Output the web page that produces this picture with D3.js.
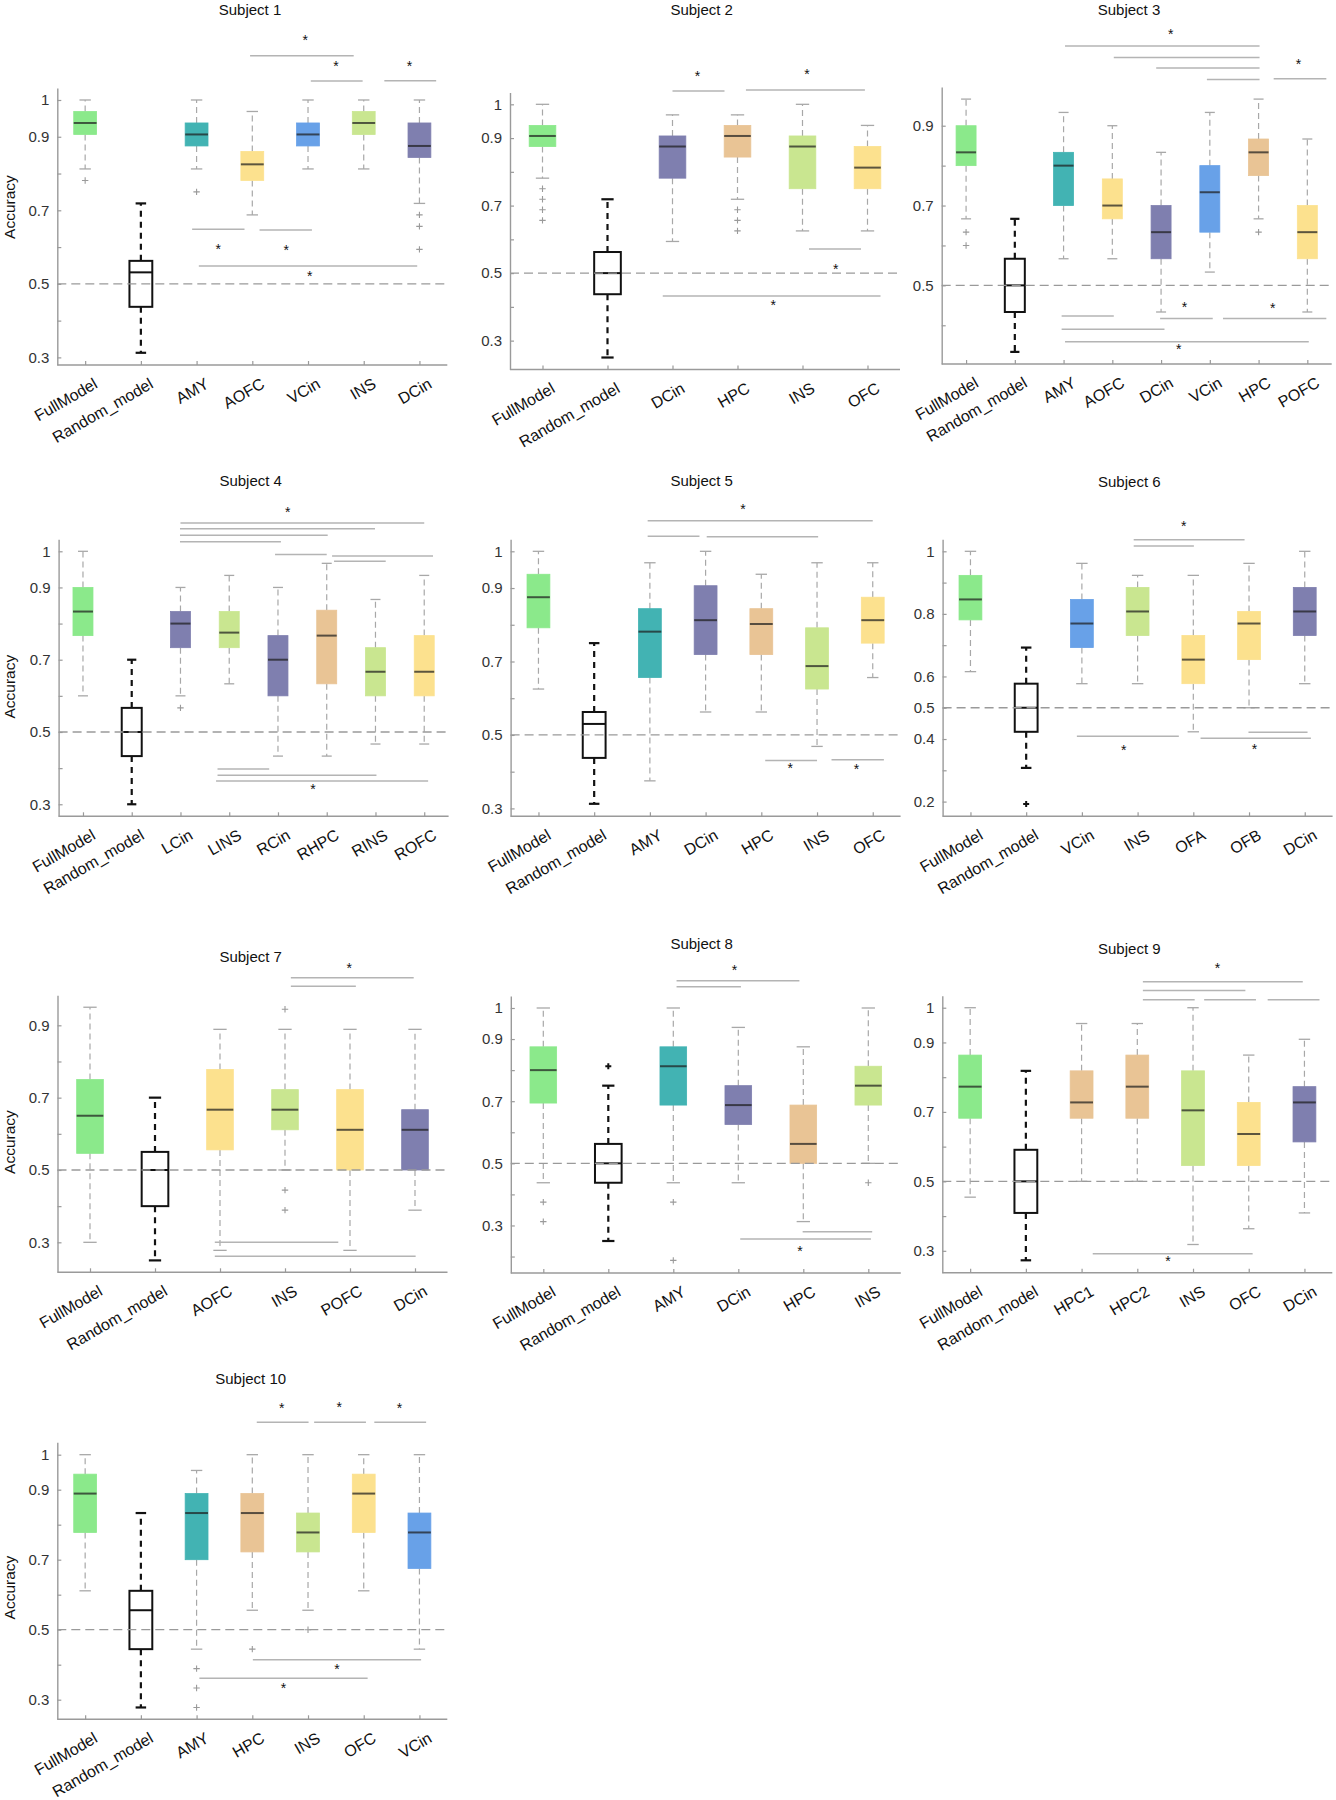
<!DOCTYPE html>
<html><head><meta charset="utf-8">
<script src="https://cdn.jsdelivr.net/npm/d3@7"></script>
<style>
body{margin:0;background:#fff}
svg{display:block}
text{font-family:"Liberation Sans",Arial,Helvetica,sans-serif}
</style>
</head><body>
<svg id="c" width="1336" height="1800"></svg>
<script>
// ---------------- DATA ----------------
const titles = ["Subject 1","Subject 2","Subject 3","Subject 4","Subject 5",
                "Subject 6","Subject 7","Subject 8","Subject 9","Subject 10"];

const categories = [
  ["FullModel","Random_model","AMY","AOFC","VCin","INS","DCin"],
  ["FullModel","Random_model","DCin","HPC","INS","OFC"],
  ["FullModel","Random_model","AMY","AOFC","DCin","VCin","HPC","POFC"],
  ["FullModel","Random_model","LCin","LINS","RCin","RHPC","RINS","ROFC"],
  ["FullModel","Random_model","AMY","DCin","HPC","INS","OFC"],
  ["FullModel","Random_model","VCin","INS","OFA","OFB","DCin"],
  ["FullModel","Random_model","AOFC","INS","POFC","DCin"],
  ["FullModel","Random_model","AMY","DCin","HPC","INS"],
  ["FullModel","Random_model","HPC1","HPC2","INS","OFC","DCin"],
  ["FullModel","Random_model","AMY","HPC","INS","OFC","VCin"]
];

// box stats per category: [lower whisker, q1, median, q3, upper whisker]
const boxStats = [
  [[0.8125,0.90625,0.9375,0.96875,1.0],[0.3125,0.4375,0.53125,0.5625,0.71875],[0.8125,0.875,0.90625,0.9375,1.0],
   [0.6875,0.78125,0.825,0.86,0.96875],[0.8125,0.875,0.90625,0.9375,1.0],[0.8125,0.90625,0.9375,0.96875,1.0],
   [0.71875,0.84375,0.875,0.9375,1.0]],
  [[0.78125,0.875,0.90625,0.9375,1.0],[0.25,0.4375,0.5,0.5625,0.71875],[0.59375,0.78125,0.875,0.90625,0.96875],
   [0.71875,0.84375,0.90625,0.9375,0.96875],[0.625,0.75,0.875,0.90625,1.0],[0.625,0.75,0.8125,0.875,0.9375]],
  [[0.6667,0.8,0.8333,0.9,0.9667],[0.3333,0.4333,0.5,0.5667,0.6667],[0.5667,0.7,0.8,0.8333,0.9333],
   [0.5667,0.6667,0.7,0.7667,0.9],[0.4333,0.5667,0.6333,0.7,0.8333],[0.5333,0.6333,0.7333,0.8,0.9333],
   [0.6667,0.775,0.8333,0.8667,0.9667],[0.4333,0.5667,0.6333,0.7,0.8667]],
  [[0.6,0.7667,0.8333,0.9,1.0],[0.3,0.4333,0.5,0.5667,0.7],[0.6,0.7333,0.8,0.8333,0.9],
   [0.6333,0.7333,0.775,0.8333,0.9333],[0.4333,0.6,0.7,0.7667,0.9],[0.4333,0.6333,0.7667,0.837,0.9667],
   [0.4667,0.6,0.6667,0.7333,0.8667],[0.4667,0.6,0.6667,0.7667,0.9333]],
  [[0.625,0.7917,0.875,0.9375,1.0],[0.3125,0.4375,0.53,0.5625,0.75],[0.375,0.6563,0.78125,0.8438,0.9688],
   [0.5625,0.7188,0.8125,0.9063,1.0],[0.5625,0.7188,0.8021,0.8438,0.9375],[0.4688,0.625,0.6875,0.7917,0.9688],
   [0.6563,0.75,0.8125,0.875,0.9688]],
  [[0.6154,0.7808,0.8462,0.9231,1.0],[0.3077,0.4231,0.5,0.5769,0.6923],[0.5769,0.6923,0.7692,0.8462,0.9615],
   [0.5769,0.7308,0.8077,0.8846,0.9231],[0.4231,0.5769,0.6538,0.7308,0.9231],[0.5,0.6538,0.7692,0.8077,0.9615],
   [0.5769,0.7308,0.8077,0.8846,1.0]],
  [[0.3,0.546,0.65,0.75,0.95],[0.25,0.4,0.5,0.55,0.7],[0.2778,0.5556,0.6667,0.7778,0.8889],
   [0.5,0.6111,0.6667,0.7222,0.8889],[0.2778,0.5,0.6111,0.7222,0.8889],[0.3889,0.5,0.6111,0.6667,0.8889]],
  [[0.4375,0.694,0.8,0.875,1.0],[0.25,0.4375,0.5,0.5625,0.75],[0.4375,0.6875,0.8125,0.875,1.0],
   [0.4375,0.625,0.6875,0.75,0.9375],[0.3125,0.5,0.5625,0.6875,0.875],[0.5,0.6875,0.75,0.8125,1.0]],
  [[0.4545,0.6818,0.7727,0.8636,1.0],[0.2727,0.4091,0.5,0.5909,0.8182],[0.5,0.6818,0.7273,0.8182,0.9545],
   [0.5,0.6818,0.7727,0.8636,0.9545],[0.3182,0.5455,0.7045,0.8182,1.0],[0.3636,0.5455,0.6364,0.7273,0.8636],
   [0.4091,0.6136,0.7273,0.7727,0.9091]],
  [[0.6111,0.7778,0.8889,0.9444,1.0],[0.2778,0.4444,0.5556,0.6111,0.8333],[0.4444,0.7,0.8333,0.8889,0.955],
   [0.5556,0.7222,0.8333,0.8889,1.0],[0.5556,0.7222,0.7778,0.8333,1.0],[0.6111,0.7778,0.8889,0.9444,1.0],
   [0.4444,0.675,0.7778,0.8333,1.0]]
];

// outliers per category
const outliers = [
  [[0.78125],[],[0.75],[],[],[],[0.6875,0.65625,0.59375]],
  [[0.75,0.71875,0.6875,0.65625],[],[],[0.6875,0.65625,0.625],[],[]],
  [[0.6333,0.6],[],[],[],[],[],[0.6333],[]],
  [[],[],[0.5667],[],[],[],[],[]],
  [[],[],[],[],[],[],[]],
  [[],[0.1923],[],[],[],[],[]],
  [[],[],[],[0.9444,0.4444,0.3889],[],[]],
  [[0.375,0.3125],[0.8125],[0.375,0.1875],[],[],[0.4375]],
  [[],[],[],[],[],[],[]],
  [[],[],[0.3889,0.3333,0.2778],[0.4444],[0.5],[],[]]
];

// significance bars: [from category index, to category index, accuracy level]
const sigLines = [
  [[3.96,5.82,1.1206],[5.05,5.98,1.0517],[6.37,7.30,1.0526],[2.92,3.86,0.6482],[4.13,5.07,0.6464],[3.04,6.96,0.5485]],
  [[3.0,3.8,1.0395],[4.13,5.96,1.0425],[5.10,5.90,0.5715],[2.85,6.20,0.4323]],
  [[3.03,7.02,1.0996],[4.03,7.02,1.0712],[4.90,7.02,1.0445],[5.94,7.02,1.0161],[7.31,8.39,1.0177],
   [4.98,6.06,0.4173],[6.27,8.39,0.4173],[2.96,4.03,0.4232],[2.96,5.07,0.3898],[3.03,8.03,0.3589]],
  [[3.0,8.0,1.0784],[2.99,6.99,1.0627],[2.99,6.02,1.0443],[2.99,5.06,1.0267],[4.94,6.0,0.9908],
   [6.11,8.18,0.9871],[6.15,7.21,0.9723],[3.76,4.82,0.3978],[3.76,7.02,0.3802],[3.73,8.08,0.3646]],
  [[2.96,7.0,1.0835],[2.96,3.89,1.0408],[4.02,6.02,1.0399],[5.07,6.0,0.4301],[6.26,7.2,0.4328]],
  [[3.93,5.92,1.0373],[3.93,5.01,1.017],[2.91,4.74,0.4088],[5.99,7.05,0.4216],[5.13,7.11,0.4024]],
  [[4.09,5.98,1.0318],[4.09,5.09,1.0078],[2.92,4.82,0.30],[2.92,6.01,0.2613]],
  [[3.05,4.94,1.088],[3.05,4.04,1.0687],[4.99,6.06,0.28],[4.03,6.04,0.2564]],
  [[4.10,6.97,1.0749],[4.10,5.94,1.0499],[4.10,5.03,1.023],[5.20,6.13,1.023],[6.34,7.27,1.023],[3.20,6.07,0.2917]],
  [[4.08,5.01,1.0924],[5.11,6.04,1.0924],[6.19,7.12,1.0924],[4.01,7.03,0.4143],[3.05,6.07,0.361]]
];

// significance stars: [category index, accuracy level]
const sigStars = [
  [[4.95,1.1695],[5.50,1.097],[6.82,1.0988],[3.39,0.601],[4.61,0.598],[5.03,0.528]],
  [[3.385,1.0898],[5.07,1.0948],[5.51,0.519],[4.55,0.4106]],
  [[5.20,1.1355],[7.82,1.0603],[5.48,0.45],[7.29,0.4482],[5.36,0.3463]],
  [[5.20,1.1144],[5.72,0.348]],
  [[4.67,1.1216],[5.52,0.4165],[6.71,0.4129]],
  [[4.83,1.0863],[3.75,0.3704],[6.10,0.3758]],
  [[4.99,1.064]],
  [[3.94,1.1277],[4.95,0.2232]],
  [[5.44,1.1209],[4.55,0.2764]],
  [[4.53,1.139],[5.56,1.1419],[6.64,1.139],[5.52,0.3924],[4.56,0.339]]
];

const yDomains = [[0.2793,1.0326],[0.2145,1.035],[0.303,0.997],[0.2667,1.0332],[0.2785,1.0327],
                  [0.153,1.0384],[0.2171,0.983],[0.147,1.0386],[0.237,1.0346],[0.244,1.0354]];

const yTickLabels = [
  [0.3,0.5,0.7,0.9,1],[0.3,0.5,0.7,0.9,1],[0.3,0.5,0.7,0.9],[0.3,0.5,0.7,0.9,1],[0.3,0.5,0.7,0.9,1],
  [0.2,0.4,0.5,0.6,0.8,1],[0.3,0.5,0.7,0.9],[0.3,0.5,0.7,0.9,1],[0.3,0.5,0.7,0.9,1],[0.3,0.5,0.7,0.9,1]
];
const chanceLevel = 0.5;

// ---------------- LAYOUT / STYLE ----------------
const frames = [[57.3,88],[510,92.5],[941.7,87],[58.6,539.3],[510.6,539.3],[942.6,539.3],
                [57.5,995.3],[510.8,996],[942.3,995.7],[57.3,1442.3]];
const titlePos = [[250,10],[701.7,10],[1129,10],[250.7,481],[701.7,481],[1129.3,482],
                  [250.7,956.7],[701.7,943.3],[1129.3,949],[250.7,1379]];
const ylabelY = [207,null,null,686.7,null,null,1142,null,null,1587.5];
const W = 390, H = 277;

const palette = {
  green:"#8be98b", teal:"#42b3b3", yellow:"#fce18e", blue:"#68a1e8",
  lime:"#c9e690", purple:"#7f7faf", tan:"#e9c495"
};
function colorFor(name){
  if (name === "FullModel") return palette.green;
  if (name === "AMY") return palette.teal;
  if (/OF/.test(name)) return palette.yellow;
  if (name === "VCin") return palette.blue;
  if (/INS/.test(name)) return palette.lime;
  if (/Cin/.test(name)) return palette.purple;
  if (/HPC/.test(name)) return palette.tan;
  return "#ccc";
}

const svg = d3.select("#c");
const fmt = d3.format("~g");

titles.forEach((title, i) => {
  const [fx, fy] = frames[i];
  const cats = categories[i];
  const n = cats.length;
  const x = d3.scaleLinear().domain([0.5, n + 0.5]).range([0, W]);
  const y = d3.scaleLinear().domain(yDomains[i]).range([H, 0]);
  const step = W / n, bw = step * 0.41;
  const g = svg.append("g").attr("transform", `translate(${fx},${fy})`);

  // y axis
  const [lo, hi] = yDomains[i];
  const tickVals = d3.range(Math.ceil(lo * 10 - 1e-6), Math.floor(hi * 10 + 1e-6) + 1).map(k => k / 10);
  const labelSet = new Set(yTickLabels[i].map(v => v.toFixed(1)));
  const yAxis = d3.axisLeft(y).tickValues(tickVals)
    .tickFormat(v => labelSet.has(v.toFixed(1)) ? fmt(v) : "")
    .tickSizeInner(-4).tickSizeOuter(0).tickPadding(8);
  const gy = g.append("g").call(yAxis);
  gy.select(".domain").attr("stroke", "#9a9a9a").attr("stroke-width", 1.4);
  gy.selectAll(".tick line").attr("stroke", "#9a9a9a").attr("stroke-width", 1.2);
  gy.selectAll(".tick text").attr("fill", "#333").style("font-size", "15px")
    .style("font-family", '"Liberation Sans",Arial,Helvetica,sans-serif');

  // x axis
  const xAxis = d3.axisBottom(x).tickValues(d3.range(1, n + 1))
    .tickFormat(k => cats[k - 1]).tickSizeInner(-4).tickSizeOuter(0);
  const gx = g.append("g").attr("transform", `translate(0,${H})`).call(xAxis);
  gx.select(".domain").attr("stroke", "#9a9a9a").attr("stroke-width", 1.4)
    .attr("d", `M0,0H${W}`);
  gx.selectAll(".tick line").attr("stroke", "#9a9a9a").attr("stroke-width", 1.2);
  gx.selectAll(".tick text")
    .attr("x", 0).attr("y", 0).attr("dy", 0)
    .attr("text-anchor", "end")
    .attr("transform", "translate(13,22) rotate(-30)")
    .attr("fill", "#111").style("font-size", "16px")
    .style("font-family", '"Liberation Sans",Arial,Helvetica,sans-serif');

  // boxes
  cats.forEach((name, k) => {
    const [wl, q1, med, q3, wh] = boxStats[i][k];
    const cx = x(k + 1);
    const isRand = name === "Random_model";
    const bg = g.append("g");
    const wStroke = isRand ? "#111" : "#a8a8a8";
    const wWidth = isRand ? 2.2 : 1.2;
    const wDash = isRand ? "6,5" : "6,4";
    const capHalf = isRand ? bw * 0.23 : bw * 0.25;
    // whiskers
    bg.append("line").attr("x1", cx).attr("x2", cx).attr("y1", y(q3)).attr("y2", y(wh))
      .attr("stroke", wStroke).attr("stroke-width", wWidth).attr("stroke-dasharray", wDash);
    bg.append("line").attr("x1", cx).attr("x2", cx).attr("y1", y(q1)).attr("y2", y(wl))
      .attr("stroke", wStroke).attr("stroke-width", wWidth).attr("stroke-dasharray", wDash);
    // caps
    [wl, wh].forEach(v => {
      bg.append("line").attr("x1", cx - capHalf).attr("x2", cx + capHalf)
        .attr("y1", y(v)).attr("y2", y(v))
        .attr("stroke", wStroke).attr("stroke-width", isRand ? 2.2 : 1.3);
    });
    // box
    if (isRand) {
      bg.append("rect").attr("x", cx - bw / 2).attr("y", y(q3)).attr("width", bw)
        .attr("height", y(q1) - y(q3)).attr("fill", "#fff").attr("stroke", "#111").attr("stroke-width", 2);
      bg.append("line").attr("x1", cx - bw / 2).attr("x2", cx + bw / 2).attr("y1", y(med)).attr("y2", y(med))
        .attr("stroke", "#111").attr("stroke-width", 2);
    } else {
      const c = colorFor(name);
      bg.append("rect").attr("x", cx - bw / 2).attr("y", y(q3)).attr("width", bw)
        .attr("height", y(q1) - y(q3)).attr("fill", c).attr("stroke", c).attr("stroke-width", 0.8);
      bg.append("line").attr("x1", cx - bw / 2).attr("x2", cx + bw / 2).attr("y1", y(med)).attr("y2", y(med))
        .attr("stroke", "rgba(30,30,30,0.72)").attr("stroke-width", 2);
    }
    // outliers
    outliers[i][k].forEach(v => {
      const s = isRand ? 3 : 3.2;
      bg.append("path")
        .attr("d", `M${cx - s},${y(v)}H${cx + s}M${cx},${y(v) - s}V${y(v) + s}`)
        .attr("stroke", isRand ? "#111" : "#9a9a9a").attr("stroke-width", isRand ? 2 : 1.1)
        .attr("fill", "none");
    });
  });

  // chance line
  g.append("line").attr("x1", 0).attr("x2", W).attr("y1", y(chanceLevel)).attr("y2", y(chanceLevel))
    .attr("stroke", "#9a9a9a").attr("stroke-width", 1.3).attr("stroke-dasharray", "9,5");

  // significance lines
  sigLines[i].forEach(([a, b, v]) => {
    g.append("line").attr("x1", x(a)).attr("x2", x(b)).attr("y1", y(v)).attr("y2", y(v))
      .attr("stroke", "#b4b4b4").attr("stroke-width", 1.5);
  });
  sigStars[i].forEach(([a, v]) => {
    g.append("text").attr("x", x(a)).attr("y", y(v) + 7).attr("text-anchor", "middle")
      .attr("fill", "#111").style("font-size", "14px").text("*");
  });

  // title
  svg.append("text").attr("x", titlePos[i][0]).attr("y", titlePos[i][1])
    .attr("dy", "0.35em").attr("text-anchor", "middle").attr("fill", "#111")
    .style("font-size", "15px").text(title);

  // y label
  if (ylabelY[i] !== null) {
    svg.append("text").attr("transform", `translate(10,${ylabelY[i]}) rotate(-90)`)
      .attr("dy", "0.35em").attr("text-anchor", "middle").attr("fill", "#111")
      .style("font-size", "15.5px").text("Accuracy");
  }
});
</script>
</body></html>
